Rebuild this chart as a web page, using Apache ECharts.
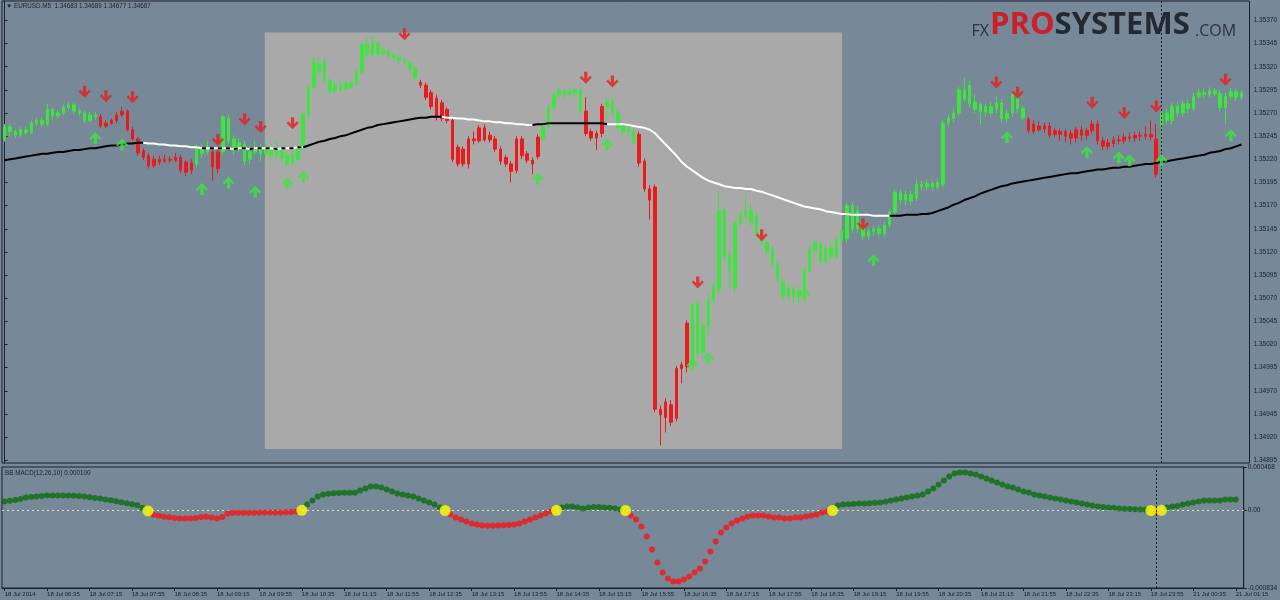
<!DOCTYPE html>
<html><head><meta charset="utf-8">
<script src="https://cdn.jsdelivr.net/npm/echarts@6/dist/echarts.min.js"></script>
<style>html,body{margin:0;padding:0;background:#778899;}#c{width:1280px;height:600px;}</style>
</head><body><div id="c"></div>
<script>
// ---------- DATA ----------
const chartTitle = '\u25BC EURUSD.M5  1.34683 1.34689 1.34677 1.34687';
const indicatorTitle = 'BB MACD(12,26,10) 0.000100';
const tickLabels = ['18 Jul 2014','18 Jul 06:35','18 Jul 07:15','18 Jul 07:55','18 Jul 08:35','18 Jul 09:15','18 Jul 09:55','18 Jul 10:35','18 Jul 11:15','18 Jul 11:55','18 Jul 12:35','18 Jul 13:15','18 Jul 13:55','18 Jul 14:35','18 Jul 15:15','18 Jul 15:55','18 Jul 16:35','18 Jul 17:15','18 Jul 17:55','18 Jul 18:35','18 Jul 19:15','18 Jul 19:55','18 Jul 20:35','18 Jul 21:15','18 Jul 21:55','18 Jul 22:35','18 Jul 23:15','18 Jul 23:55','21 Jul 00:35','21 Jul 01:15'];
const priceTicks = [1.35370,1.35345,1.35320,1.35295,1.35270,1.35245,1.35220,1.35195,1.35170,1.35145,1.35120,1.35095,1.35070,1.35045,1.35020,1.34995,1.34970,1.34945,1.34920,1.34895];
const macdTicks = [0.000468,0,-0.000834];

const open = [1.35242,1.35255,1.35250,1.35246,1.35252,1.35249,1.35259,1.35262,1.35258,1.35274,
1.35267,1.35270,1.35276,1.35279,1.35272,1.35270,1.35262,1.35268,1.35266,1.35256,
1.35259,1.35262,1.35268,1.35272,1.35252,1.35242,1.35229,1.35224,1.35213,1.35220,
1.35218,1.35220,1.35219,1.35222,1.35217,1.35208,1.35215,1.35233,1.35228,1.35228,
1.35210,1.35228,1.35264,1.35242,1.35232,1.35236,1.35220,1.35228,1.35232,1.35226,
1.35230,1.35224,1.35229,1.35224,1.35215,1.35220,1.35233,1.35269,1.35298,1.35323,
1.35326,1.35305,1.35294,1.35300,1.35296,1.35302,1.35301,1.35314,1.35344,1.35333,
1.35345,1.35334,1.35337,1.35332,1.35330,1.35327,1.35324,1.35318,1.35303,1.35300,
1.35292,1.35286,1.35281,1.35274,1.35262,1.35233,1.35231,1.35215,1.35242,1.35240,
1.35254,1.35241,1.35242,1.35231,1.35222,1.35215,1.35208,1.35242,1.35226,1.35219,
1.35223,1.35242,1.35255,1.35276,1.35290,1.35294,1.35290,1.35292,1.35295,1.35272,
1.35250,1.35243,1.35248,1.35277,1.35282,1.35270,1.35256,1.35250,1.35250,1.35247,
1.35218,1.35188,1.35190,1.34950,1.34958,1.34955,1.34940,1.34994,1.34996,1.35000,
1.35063,1.35012,1.35040,1.35068,1.35080,1.35165,1.35116,1.35081,1.35151,1.35160,
1.35165,1.35158,1.35140,1.35130,1.35122,1.35106,1.35088,1.35072,1.35080,1.35072,
1.35078,1.35100,1.35122,1.35128,1.35110,1.35124,1.35115,1.35132,1.35134,1.35170,
1.35145,1.35150,1.35137,1.35142,1.35145,1.35140,1.35149,1.35163,1.35184,1.35176,
1.35182,1.35178,1.35193,1.35190,1.35194,1.35190,1.35193,1.35259,1.35264,1.35270,
1.35295,1.35300,1.35282,1.35279,1.35271,1.35277,1.35274,1.35281,1.35264,1.35270,
1.35290,1.35275,1.35263,1.35258,1.35252,1.35256,1.35256,1.35251,1.35247,1.35250,
1.35248,1.35243,1.35252,1.35246,1.35251,1.35258,1.35240,1.35234,1.35237,1.35241,
1.35240,1.35244,1.35243,1.35246,1.35245,1.35247,1.35242,1.35256,1.35270,1.35262,
1.35277,1.35270,1.35280,1.35275,1.35288,1.35292,1.35290,1.35294,1.35291,1.35276,
1.35288,1.35293,1.35287];
const close = [1.35255,1.35250,1.35246,1.35252,1.35249,1.35259,1.35262,1.35258,1.35274,1.35267,
1.35270,1.35276,1.35279,1.35272,1.35270,1.35262,1.35268,1.35266,1.35256,1.35259,
1.35262,1.35268,1.35272,1.35252,1.35242,1.35227,1.35222,1.35213,1.35220,1.35217,
1.35220,1.35219,1.35222,1.35208,1.35206,1.35216,1.35233,1.35226,1.35232,1.35212,
1.35228,1.35266,1.35240,1.35230,1.35238,1.35218,1.35228,1.35232,1.35226,1.35230,
1.35224,1.35229,1.35222,1.35215,1.35226,1.35233,1.35269,1.35298,1.35325,1.35315,
1.35305,1.35294,1.35300,1.35296,1.35302,1.35298,1.35314,1.35344,1.35333,1.35345,
1.35334,1.35337,1.35332,1.35330,1.35327,1.35326,1.35318,1.35308,1.35300,1.35287,
1.35277,1.35266,1.35264,1.35262,1.35220,1.35215,1.35215,1.35242,1.35240,1.35254,
1.35241,1.35246,1.35231,1.35218,1.35215,1.35207,1.35242,1.35224,1.35219,1.35215,
1.35244,1.35255,1.35276,1.35290,1.35294,1.35290,1.35293,1.35295,1.35272,1.35248,
1.35243,1.35248,1.35277,1.35282,1.35270,1.35254,1.35250,1.35255,1.35238,1.35216,
1.35188,1.35176,1.34950,1.34944,1.34941,1.34936,1.34994,1.34998,1.35043,1.35063,
1.35010,1.35040,1.35068,1.35083,1.35165,1.35116,1.35100,1.35151,1.35160,1.35165,
1.35152,1.35140,1.35130,1.35121,1.35106,1.35090,1.35072,1.35080,1.35072,1.35078,
1.35100,1.35122,1.35130,1.35110,1.35124,1.35115,1.35132,1.35143,1.35170,1.35145,
1.35165,1.35137,1.35142,1.35145,1.35140,1.35149,1.35163,1.35184,1.35176,1.35182,
1.35175,1.35193,1.35190,1.35194,1.35190,1.35195,1.35259,1.35264,1.35270,1.35295,
1.35285,1.35280,1.35274,1.35271,1.35277,1.35270,1.35281,1.35264,1.35270,1.35290,
1.35275,1.35265,1.35251,1.35250,1.35256,1.35253,1.35246,1.35247,1.35250,1.35245,
1.35243,1.35252,1.35246,1.35251,1.35258,1.35240,1.35234,1.35238,1.35241,1.35240,
1.35244,1.35243,1.35246,1.35245,1.35247,1.35244,1.35204,1.35270,1.35262,1.35277,
1.35270,1.35280,1.35275,1.35288,1.35292,1.35290,1.35294,1.35291,1.35276,1.35288,
1.35293,1.35287,1.35292];
const low = [1.35239,1.35246,1.35243,1.35244,1.35246,1.35247,1.35256,1.35255,1.35256,1.35263,
1.35264,1.35268,1.35273,1.35269,1.35267,1.35259,1.35260,1.35263,1.35254,1.35254,
1.35257,1.35259,1.35266,1.35250,1.35240,1.35224,1.35219,1.35210,1.35211,1.35214,
1.35216,1.35216,1.35217,1.35205,1.35202,1.35204,1.35212,1.35222,1.35225,1.35197,
1.35205,1.35225,1.35236,1.35225,1.35228,1.35214,1.35215,1.35225,1.35218,1.35222,
1.35218,1.35220,1.35216,1.35212,1.35212,1.35218,1.35230,1.35265,1.35295,1.35312,
1.35302,1.35290,1.35291,1.35293,1.35294,1.35295,1.35299,1.35312,1.35330,1.35330,
1.35331,1.35331,1.35329,1.35326,1.35323,1.35321,1.35315,1.35305,1.35297,1.35284,
1.35274,1.35262,1.35261,1.35259,1.35217,1.35212,1.35212,1.35210,1.35236,1.35238,
1.35239,1.35238,1.35228,1.35214,1.35212,1.35195,1.35205,1.35220,1.35216,1.35204,
1.35220,1.35240,1.35252,1.35273,1.35286,1.35286,1.35287,1.35289,1.35269,1.35245,
1.35240,1.35230,1.35244,1.35262,1.35265,1.35250,1.35246,1.35245,1.35235,1.35212,
1.35185,1.35155,1.34947,1.34911,1.34925,1.34932,1.34937,1.34978,1.34990,1.34996,
1.35005,1.35006,1.35030,1.35065,1.35075,1.35110,1.35080,1.35075,1.35148,1.35155,
1.35148,1.35136,1.35126,1.35117,1.35102,1.35086,1.35068,1.35068,1.35065,1.35063,
1.35075,1.35097,1.35118,1.35106,1.35106,1.35110,1.35112,1.35128,1.35130,1.35141,
1.35141,1.35133,1.35133,1.35137,1.35136,1.35137,1.35146,1.35160,1.35172,1.35170,
1.35170,1.35175,1.35186,1.35186,1.35186,1.35187,1.35190,1.35255,1.35260,1.35267,
1.35282,1.35276,1.35270,1.35258,1.35266,1.35266,1.35270,1.35260,1.35260,1.35266,
1.35270,1.35262,1.35248,1.35247,1.35250,1.35249,1.35243,1.35244,1.35240,1.35238,
1.35236,1.35238,1.35240,1.35241,1.35248,1.35236,1.35230,1.35230,1.35233,1.35236,
1.35237,1.35239,1.35239,1.35240,1.35241,1.35240,1.35200,1.35230,1.35258,1.35258,
1.35266,1.35266,1.35270,1.35272,1.35285,1.35286,1.35287,1.35288,1.35272,1.35258,
1.35284,1.35283,1.35284];
const high = [1.35258,1.35258,1.35252,1.35255,1.35255,1.35262,1.35265,1.35265,1.35280,1.35276,
1.35273,1.35279,1.35283,1.35281,1.35275,1.35272,1.35271,1.35271,1.35269,1.35262,
1.35264,1.35271,1.35277,1.35274,1.35255,1.35244,1.35232,1.35227,1.35224,1.35224,
1.35225,1.35223,1.35227,1.35225,1.35219,1.35220,1.35236,1.35237,1.35240,1.35232,
1.35232,1.35268,1.35268,1.35246,1.35243,1.35240,1.35234,1.35240,1.35236,1.35238,
1.35235,1.35240,1.35233,1.35230,1.35232,1.35238,1.35272,1.35301,1.35330,1.35330,
1.35330,1.35308,1.35304,1.35305,1.35305,1.35306,1.35318,1.35347,1.35352,1.35354,
1.35348,1.35341,1.35340,1.35336,1.35334,1.35330,1.35328,1.35321,1.35306,1.35303,
1.35295,1.35290,1.35284,1.35276,1.35265,1.35236,1.35234,1.35245,1.35250,1.35257,
1.35258,1.35250,1.35245,1.35234,1.35225,1.35218,1.35245,1.35245,1.35229,1.35222,
1.35247,1.35258,1.35279,1.35293,1.35298,1.35297,1.35298,1.35298,1.35298,1.35287,
1.35253,1.35251,1.35280,1.35287,1.35286,1.35275,1.35260,1.35258,1.35253,1.35250,
1.35221,1.35192,1.35193,1.34954,1.34962,1.34960,1.34997,1.35001,1.35046,1.35065,
1.35068,1.35045,1.35075,1.35087,1.35185,1.35168,1.35120,1.35154,1.35165,1.35183,
1.35172,1.35165,1.35144,1.35134,1.35126,1.35110,1.35092,1.35085,1.35084,1.35082,
1.35104,1.35126,1.35134,1.35132,1.35128,1.35130,1.35136,1.35147,1.35173,1.35174,
1.35170,1.35154,1.35146,1.35148,1.35149,1.35153,1.35166,1.35187,1.35188,1.35186,
1.35186,1.35198,1.35197,1.35198,1.35197,1.35199,1.35262,1.35268,1.35275,1.35298,
1.35308,1.35305,1.35290,1.35282,1.35280,1.35282,1.35288,1.35285,1.35274,1.35293,
1.35294,1.35278,1.35266,1.35262,1.35261,1.35260,1.35260,1.35254,1.35253,1.35253,
1.35252,1.35255,1.35256,1.35254,1.35262,1.35262,1.35244,1.35242,1.35245,1.35246,
1.35248,1.35249,1.35250,1.35250,1.35256,1.35262,1.35258,1.35274,1.35275,1.35281,
1.35282,1.35284,1.35284,1.35292,1.35296,1.35297,1.35298,1.35297,1.35295,1.35292,
1.35297,1.35296,1.35295];
// indicator colouring of each bar: g = buy phase, r = sell phase
const barPhase = ('gggggggggggggggggg' + 'rrrrrrrrrrrrrrrrrr' + 'ggg' + 'rr' +
  'ggggggggggggggggggggggggggggggggggggg' + 'rrrrrrrrrrrrrrrrrrrrrrr' + 'gggggggg' + 'rrrr' +
  'gggggg' + 'rrrrrrrrrr' + 'ggggggggggggggggggggggggggggggggggggggggggggggggggggggggggggggg' +
  'rrrrrrrrrrrrrrrrrrrrrrrrr' + 'gggggggggggggggg').split('');

const ma = [1.35219,1.35220,1.35221,1.35222,1.35223,1.35224,1.35225,1.35226,1.35226,1.35227,
1.35228,1.35228,1.35229,1.35230,1.35230,1.35231,1.35232,1.35232,1.35233,1.35234,
1.35235,1.35235,1.35236,1.35237,1.35237,1.35238,1.35238,1.35237,1.35237,1.35236,
1.35236,1.35235,1.35235,1.35234,1.35234,1.35233,1.35233,1.35232,1.35232,1.35232,
1.35232,1.35232,1.35232,1.35231,1.35232,1.35232,1.35231,1.35232,1.35232,1.35232,
1.35232,1.35231,1.35232,1.35232,1.35232,1.35233,1.35233,1.35235,1.35237,1.35239,
1.35240,1.35242,1.35243,1.35245,1.35246,1.35248,1.35250,1.35252,1.35254,1.35255,
1.35257,1.35258,1.35259,1.35260,1.35261,1.35262,1.35263,1.35264,1.35265,1.35265,
1.35266,1.35266,1.35266,1.35265,1.35265,1.35264,1.35264,1.35263,1.35263,1.35262,
1.35261,1.35261,1.35260,1.35260,1.35259,1.35259,1.35258,1.35258,1.35257,1.35257,
1.35258,1.35258,1.35259,1.35259,1.35259,1.35259,1.35259,1.35259,1.35259,1.35259,
1.35259,1.35259,1.35259,1.35258,1.35258,1.35258,1.35258,1.35257,1.35256,1.35255,
1.35254,1.35252,1.35248,1.35242,1.35236,1.35230,1.35224,1.35217,1.35212,1.35208,
1.35204,1.35200,1.35197,1.35195,1.35193,1.35191,1.35190,1.35189,1.35189,1.35188,
1.35188,1.35186,1.35185,1.35183,1.35181,1.35179,1.35177,1.35175,1.35173,1.35171,
1.35169,1.35168,1.35167,1.35166,1.35164,1.35163,1.35162,1.35161,1.35161,1.35160,
1.35160,1.35160,1.35160,1.35159,1.35159,1.35159,1.35159,1.35159,1.35159,1.35160,
1.35160,1.35160,1.35161,1.35161,1.35162,1.35164,1.35166,1.35168,1.35171,1.35173,
1.35176,1.35178,1.35180,1.35183,1.35185,1.35187,1.35189,1.35191,1.35192,1.35194,
1.35195,1.35196,1.35197,1.35198,1.35199,1.35200,1.35201,1.35202,1.35203,1.35204,
1.35205,1.35205,1.35206,1.35207,1.35208,1.35209,1.35209,1.35210,1.35211,1.35211,
1.35212,1.35212,1.35213,1.35214,1.35215,1.35215,1.35216,1.35217,1.35218,1.35219,
1.35220,1.35221,1.35222,1.35223,1.35224,1.35225,1.35227,1.35228,1.35229,1.35231,
1.35232,1.35234,1.35236];
// slope state of the moving average by bar range
const maSegments = [[0,26,'up'],[26,37,'down'],[37,56,'flat'],[56,82,'up'],[82,99,'down'],[99,113,'up'],[113,166,'down'],[166,232,'up']];

const sellArrows = [[15,1.35293],[19,1.35288],[24,1.35287],[40,1.35241],[45,1.35263],[48,1.35255],[54,1.35259],[75,1.35355],[109,1.35308],[114,1.35304],[130,1.35087],[142,1.35138],[161,1.35150],[186,1.35303],[190,1.35292],[204,1.35281],[210,1.35270],[216,1.35277],[229,1.35306]];
const buyArrows = [[17,1.35243],[22,1.35236],[37,1.35188],[42,1.35195],[47,1.35185],[53,1.35194],[56,1.35201],[100,1.35199],[113,1.35236],[129,1.34998],[132,1.35005],[150,1.35074],[163,1.35111],[188,1.35244],[203,1.35228],[209,1.35222],[211,1.35219],[217,1.35219],[230,1.35246]];

// rectangle object (bar position, price)
const rectStart = [48.8, 1.35357];
const rectEnd = [157.05, 1.34907];
const daySeparatorBar = 217;

const macd = [0.000097,0.000105,0.000114,0.000124,0.000140,0.000144,0.000150,0.000157,0.000160,0.000162,
0.000162,0.000162,0.000160,0.000158,0.000155,0.000150,0.000143,0.000135,0.000128,0.000119,
0.000109,0.000100,0.000090,0.000078,0.000068,0.000057,0.000027,-0.000005,-0.000043,-0.000057,
-0.000067,-0.000074,-0.000081,-0.000086,-0.000087,-0.000087,-0.000081,-0.000071,-0.000067,-0.000076,
-0.000086,-0.000071,-0.000033,-0.000024,-0.000024,-0.000024,-0.000023,-0.000023,-0.000022,-0.000022,
-0.000022,-0.000021,-0.000021,-0.000019,-0.000017,-0.000011,0.000002,0.000065,0.000107,0.000150,
0.000172,0.000181,0.000185,0.000188,0.000190,0.000190,0.000192,0.000215,0.000237,0.000258,
0.000258,0.000247,0.000226,0.000204,0.000182,0.000172,0.000162,0.000150,0.000129,0.000107,
0.000086,0.000065,0.000032,0.000000,-0.000043,-0.000075,-0.000097,-0.000119,-0.000140,-0.000150,
-0.000162,-0.000163,-0.000163,-0.000162,-0.000160,-0.000157,-0.000152,-0.000140,-0.000119,-0.000097,
-0.000075,-0.000054,-0.000032,-0.000010,0.000002,0.000032,0.000043,0.000043,0.000032,0.000022,
0.000032,0.000038,0.000038,0.000033,0.000029,0.000024,0.000010,0.000000,-0.000054,-0.000097,
-0.000172,-0.000279,-0.000419,-0.000560,-0.000667,-0.000732,-0.000764,-0.000764,-0.000742,-0.000710,
-0.000667,-0.000624,-0.000548,-0.000441,-0.000333,-0.000237,-0.000182,-0.000140,-0.000107,-0.000086,
-0.000065,-0.000054,-0.000054,-0.000054,-0.000065,-0.000075,-0.000075,-0.000086,-0.000086,-0.000075,
-0.000075,-0.000065,-0.000054,-0.000043,-0.000022,-0.000010,0.000000,0.000054,0.000065,0.000068,
0.000071,0.000075,0.000075,0.000078,0.000084,0.000086,0.000093,0.000107,0.000119,0.000129,
0.000140,0.000150,0.000162,0.000172,0.000204,0.000237,0.000279,0.000323,0.000366,0.000398,
0.000409,0.000409,0.000398,0.000388,0.000366,0.000344,0.000323,0.000301,0.000279,0.000258,
0.000247,0.000226,0.000204,0.000194,0.000172,0.000162,0.000150,0.000140,0.000129,0.000119,
0.000107,0.000097,0.000086,0.000075,0.000065,0.000054,0.000043,0.000038,0.000032,0.000029,
0.000022,0.000019,0.000017,0.000014,0.000011,0.000008,0.000000,-0.000005,0.000002,0.000032,
0.000043,0.000048,0.000065,0.000075,0.000086,0.000097,0.000107,0.000107,0.000107,0.000107,
0.000119,0.000119,0.000119];
const macdCrossBars = [27,56,83,104,117,156,216,218];

// ---------- CATEGORIES (5-minute bars) ----------
const categories = [];
for (let i = 0; i < 234; i++) {
  let d, m;
  if (i < 217) { d = '18 Jul'; m = 5 * 60 + 55 + 5 * i; } else { d = '21 Jul'; m = 5 * (i - 217); }
  categories.push(d + ' ' + String(Math.floor(m / 60)).padStart(2, '0') + ':' + String(m % 60).padStart(2, '0'));
}

// ---------- STYLE ----------
const FG = '#1b2129';
const GREEN = '#3ce63c', RED = '#e81c1c';
const FONT = 'Liberation Sans, DejaVu Sans, sans-serif';
const arrowDown = 'path://M4,0 L7,0 L7,6 L9.5,3.5 L11,5 L5.5,10.5 L0,5 L1.5,3.5 L4,6 Z';
const arrowUp = 'path://M5.5,0 L11,5.5 L9.5,7 L7,4.5 L7,10.5 L4,10.5 L4,4.5 L1.5,7 L0,5.5 Z';

const candleData = open.map((o, i) => {
  const c = barPhase[i] === 'g' ? GREEN : RED;
  return { value: [o, close[i], low[i], high[i]], itemStyle: { color: c, color0: c, borderColor: c, borderColor0: c, borderWidth: 1 } };
});

const maSeries = [];
maSegments.forEach(([a, b, kind]) => {
  const d = ma.map((v, i) => (i >= a && i <= b) ? v : null);
  const base = { type: 'line', xAxisIndex: 0, yAxisIndex: 0, data: d, symbol: 'none', silent: true, z: 4 };
  if (kind === 'flat') {
    maSeries.push(Object.assign({}, base, { lineStyle: { color: '#ffffff', width: 2 } }));
    maSeries.push(Object.assign({}, base, { lineStyle: { color: '#000000', width: 2, type: [4, 4] } }));
  } else {
    maSeries.push(Object.assign({}, base, { lineStyle: { color: kind === 'up' ? '#000000' : '#ffffff', width: 2 } }));
  }
});

const macdDots = [];
macd.forEach((v, i) => { if (!macdCrossBars.includes(i)) macdDots.push({ value: [i, v], itemStyle: { color: v >= 0 ? '#0a6e0c' : '#f51515' } }); });
const crossDots = macdCrossBars.map(i => [i, macd[i]]);

const chart = echarts.init(document.getElementById('c'), null, { renderer: 'canvas', width: 1280, height: 600 });
chart.setOption({
  animation: false,
  backgroundColor: '#778899',
  textStyle: { fontFamily: FONT },
  grid: [
    { left: 2, right: 29, top: 1, height: 462, show: true, borderColor: FG, borderWidth: 1, backgroundColor: 'transparent' },
    { left: 2, right: 29, top: 467, height: 121, show: true, borderColor: FG, borderWidth: 1, backgroundColor: 'transparent' }
  ],
  xAxis: [
    { type: 'category', gridIndex: 0, data: categories, boundaryGap: true, axisLine: { show: false, onZero: false }, axisTick: { show: false }, axisLabel: { show: false }, splitLine: { show: false } },
    { type: 'category', gridIndex: 1, data: categories, boundaryGap: true,
      axisLine: { show: true, onZero: false, lineStyle: { color: FG, width: 1 } },
      axisTick: { show: true, alignWithLabel: true, length: 3, interval: (i) => i % 8 === 0 && i <= 232, lineStyle: { color: FG } },
      axisLabel: { show: true, interval: (i) => i % 8 === 0 && i <= 232, formatter: (v, i) => tickLabels[i / 8], align: 'left', fontSize: 6, color: FG, margin: 3, fontFamily: FONT },
      splitLine: { show: false } },
    { type: 'value', gridIndex: 0, min: -0.5, max: 233.5, show: false }
  ],
  yAxis: [
    { type: 'value', gridIndex: 0, position: 'right', min: 1.34892, max: 1.35391, scale: true,
      axisLine: { show: true, lineStyle: { color: FG } },
      axisTick: { show: true, length: 3, customValues: priceTicks, lineStyle: { color: FG } },
      axisLabel: { show: true, customValues: priceTicks, formatter: v => v.toFixed(5), fontSize: 6.5, color: FG, margin: 4, fontFamily: FONT },
      splitLine: { show: false } },
    { type: 'value', gridIndex: 1, position: 'right', min: -0.000834, max: 0.000468,
      axisLine: { show: true, lineStyle: { color: FG } },
      axisTick: { show: true, length: 3, customValues: macdTicks, lineStyle: { color: FG } },
      axisLabel: { show: true, customValues: macdTicks, formatter: v => Math.abs(v) < 1e-12 ? '0.00' : v.toFixed(6), fontSize: 6.5, color: FG, margin: 4, fontFamily: FONT },
      splitLine: { show: false } }
  ],
  series: [
    { type: 'scatter', xAxisIndex: 2, yAxisIndex: 0, data: [rectStart, rectEnd], symbolSize: 0, silent: true, z: 1,
      markArea: { silent: true, itemStyle: { color: '#a9a9a9', opacity: 1 }, data: [[{ coord: rectStart }, { coord: rectEnd }]] } },
    { type: 'candlestick', xAxisIndex: 0, yAxisIndex: 0, data: candleData, barWidth: 3, z: 3, silent: true,
      markLine: { silent: true, symbol: 'none', label: { show: false }, lineStyle: { color: FG, type: [2, 2], width: 1 }, data: [{ xAxis: daySeparatorBar }] } },
    ...maSeries,
    { type: 'scatter', xAxisIndex: 0, yAxisIndex: 0, data: sellArrows, symbol: arrowDown, symbolSize: [12, 12], itemStyle: { color: RED }, z: 5, silent: true },
    { type: 'scatter', xAxisIndex: 0, yAxisIndex: 0, data: buyArrows, symbol: arrowUp, symbolSize: [12, 12], itemStyle: { color: GREEN }, z: 5, silent: true },
    { type: 'scatter', xAxisIndex: 1, yAxisIndex: 1, data: macdDots, symbolSize: 6, z: 3, silent: true,
      markLine: { silent: true, symbol: 'none', label: { show: false }, lineStyle: { color: FG, type: [2, 2], width: 1 }, data: [{ xAxis: daySeparatorBar }] } },
    { type: 'scatter', xAxisIndex: 1, yAxisIndex: 1, data: crossDots, symbolSize: 11, itemStyle: { color: '#ffff00' }, z: 4, silent: true,
      markLine: { silent: true, symbol: 'none', label: { show: false }, z: 1, lineStyle: { color: '#e2e2bc', type: [2, 3], width: 1 }, data: [{ yAxis: 0 }] } }
  ],
  graphic: [
    { type: 'text', left: 6, top: 3, style: { text: chartTitle, fill: FG, font: '6.3px ' + FONT } },
    { type: 'text', left: 5, top: 470, style: { text: indicatorTitle, fill: FG, font: '6.3px ' + FONT } },
    { type: 'text', x: 989, y: 31, style: { text: 'FX', fill: '#2b323c', font: '16px "Open Sans", sans-serif', align: 'right', verticalAlign: 'middle', textAlign: 'right', textVerticalAlign: 'middle' } },
    { type: 'text', x: 990, y: 25, style: { text: '{p|PRO}{s|SYSTEMS}', align: 'left', verticalAlign: 'middle', textAlign: 'left', textVerticalAlign: 'middle',
        rich: { p: { fill: '#cc2027', fontSize: 31, fontWeight: 'bold', fontFamily: 'Open Sans' }, s: { fill: '#222931', fontSize: 31, fontWeight: 'bold', fontFamily: 'Open Sans' } } } },
    { type: 'text', x: 1195, y: 31, style: { text: '.COM', fill: '#2b323c', font: '16px "Open Sans", sans-serif', align: 'left', verticalAlign: 'middle', textAlign: 'left', textVerticalAlign: 'middle' } }
  ]
});
</script></body></html>
